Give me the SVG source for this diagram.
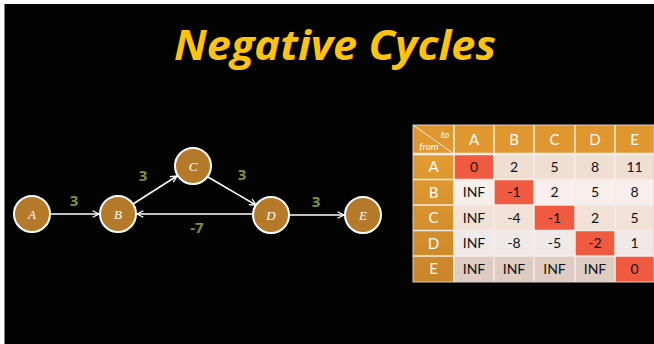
<svg xmlns="http://www.w3.org/2000/svg" width="654" height="344" viewBox="0 0 654 344">
  <style>
    .title { font-family: "Open Sans", Lato, sans-serif; font-weight: 700; font-style: italic; font-size: 42px; fill: #FFC20E; }
    .node circle { fill: #B5792A; stroke: #FFFFFF; stroke-width: 2; }
    .node text { font-family: "Liberation Serif", serif; font-style: italic; font-size: 13px; fill: #FFFFFF; text-anchor: middle; }
    .edge { stroke: #FFFFFF; stroke-width: 1.5; fill: none; marker-end: url(#arrow); }
    .w { font-family: "Open Sans", "Liberation Sans", sans-serif; font-weight: 700; font-size: 15px; fill: #7E9436; text-anchor: middle; }
    .hd { fill: #E0972F; }
    .rh { fill: url(#rowhead); }
    .ht { font-family: Lato, "Liberation Sans", sans-serif; font-size: 15px; fill: #FFFFFF; text-anchor: middle; }
    .ct { font-family: Lato, "Liberation Sans", sans-serif; font-size: 14px; fill: #111111; text-anchor: middle; }
    .rA { fill: #F0DED3; }
    .rB { fill: #F7EFEB; }
    .rC { fill: #F1E1D7; }
    .rD { fill: #EFEAE7; }
    .rE { fill: #DECCC3; }
    .dg { fill: #F05A40; }
    .grid { stroke: #F4ECE8; stroke-width: 1.5; }
  </style>
  <defs>
    <marker id="arrow" viewBox="0 0 10 10" refX="9" refY="5" markerWidth="8" markerHeight="8" markerUnits="userSpaceOnUse" orient="auto">
      <path d="M1,1 L9,5 L1,9" fill="none" stroke="#FFFFFF" stroke-width="1.6"/>
    </marker>
    <linearGradient id="rowhead" x1="0" y1="0" x2="0" y2="1">
      <stop offset="0" stop-color="#E39C32"/>
      <stop offset="1" stop-color="#C98529"/>
    </linearGradient>
  </defs>

  <!-- background -->
  <rect x="0" y="0" width="654" height="344" fill="#FFFFFF"/>
  <rect x="4.5" y="4" width="650" height="340" fill="#030303"/>

  <text class="title" x="335" y="60" text-anchor="middle" textLength="322" lengthAdjust="spacingAndGlyphs">Negative Cycles</text>

  <!-- connectors -->
  <g id="edges">
    <line class="edge" x1="50" y1="214" x2="99" y2="214"/>
    <line class="edge" x1="133" y1="204" x2="177" y2="176"/>
    <line class="edge" x1="208" y1="177" x2="256" y2="205"/>
    <line class="edge" x1="252" y1="214" x2="137" y2="214"/>
    <line class="edge" x1="289" y1="215" x2="344" y2="215"/>
    <text class="w" x="74" y="206">3</text>
    <text class="w" x="143" y="181">3</text>
    <text class="w" x="242" y="180">3</text>
    <text class="w" x="197" y="233">-7</text>
    <text class="w" x="316" y="207">3</text>
  </g>

  <!-- nodes -->
  <g id="node-A" class="node"><circle cx="32" cy="214" r="18"/><text x="32" y="218.5">A</text></g>
  <g id="node-B" class="node"><circle cx="118" cy="214" r="18"/><text x="118" y="218.5">B</text></g>
  <g id="node-C" class="node"><circle cx="193" cy="166" r="18"/><text x="193" y="170.5">C</text></g>
  <g id="node-D" class="node"><circle cx="271" cy="215" r="18"/><text x="271" y="219.5">D</text></g>
  <g id="node-E" class="node"><circle cx="363" cy="215" r="18"/><text x="363" y="219.5">E</text></g>

  <!-- distance table -->
  <g id="table">
    <rect class="hd" x="413" y="125" width="241" height="29"/>
    <rect class="rh" x="413" y="154" width="41" height="128"/>
    <rect class="rA" x="454" y="154" width="200" height="25.5"/>
    <rect class="rB" x="454" y="179.5" width="200" height="25.5"/>
    <rect class="rC" x="454" y="205" width="200" height="25.5"/>
    <rect class="rD" x="454" y="230.5" width="200" height="25.5"/>
    <rect class="rE" x="454" y="256" width="200" height="26"/>
    <rect class="dg" x="454" y="154" width="40" height="25.5"/>
    <rect class="dg" x="494" y="179.5" width="40" height="25.5"/>
    <rect class="dg" x="534" y="205" width="41" height="25.5"/>
    <rect class="dg" x="575" y="230.5" width="40" height="25.5"/>
    <rect class="dg" x="615" y="256" width="39" height="26"/>

    <g class="grid">
      <line x1="454" y1="125" x2="454" y2="282"/>
      <line x1="494" y1="125" x2="494" y2="282"/>
      <line x1="534" y1="125" x2="534" y2="282"/>
      <line x1="575" y1="125" x2="575" y2="282"/>
      <line x1="615" y1="125" x2="615" y2="282"/>
      <line x1="413" y1="154" x2="654" y2="154" stroke-width="2.5"/>
      <line x1="413" y1="179.5" x2="654" y2="179.5"/>
      <line x1="413" y1="205" x2="654" y2="205"/>
      <line x1="413" y1="230.5" x2="654" y2="230.5"/>
      <line x1="413" y1="256" x2="654" y2="256"/>
      <line x1="413" y1="125" x2="454" y2="154" stroke-width="1"/>
      <rect x="413" y="125" width="241" height="157" fill="none" stroke="#D9CFC9" stroke-width="1"/>
    </g>

    <text x="445" y="138" font-family="Lato, 'Liberation Sans', sans-serif" font-style="italic" font-size="10" fill="#FFFFFF" text-anchor="middle">to</text>
    <text x="429" y="150" font-family="Lato, 'Liberation Sans', sans-serif" font-style="italic" font-size="10" fill="#FFFFFF" text-anchor="middle">from</text>

    <text class="ht" x="474" y="145">A</text>
    <text class="ht" x="514" y="145">B</text>
    <text class="ht" x="554.5" y="145">C</text>
    <text class="ht" x="595" y="145">D</text>
    <text class="ht" x="634.5" y="145">E</text>

    <text class="ht" x="433.5" y="172">A</text>
    <text class="ht" x="433.5" y="197.5">B</text>
    <text class="ht" x="433.5" y="223">C</text>
    <text class="ht" x="433.5" y="248.5">D</text>
    <text class="ht" x="433.5" y="274">E</text>

    <text class="ct" x="474" y="171.5">0</text>
    <text class="ct" x="514" y="171.5">2</text>
    <text class="ct" x="554.5" y="171.5">5</text>
    <text class="ct" x="595" y="171.5">8</text>
    <text class="ct" x="634.5" y="171.5">11</text>

    <text class="ct" x="474" y="197">INF</text>
    <text class="ct" x="514" y="197">-1</text>
    <text class="ct" x="554.5" y="197">2</text>
    <text class="ct" x="595" y="197">5</text>
    <text class="ct" x="634.5" y="197">8</text>

    <text class="ct" x="474" y="222.5">INF</text>
    <text class="ct" x="514" y="222.5">-4</text>
    <text class="ct" x="554.5" y="222.5">-1</text>
    <text class="ct" x="595" y="222.5">2</text>
    <text class="ct" x="634.5" y="222.5">5</text>

    <text class="ct" x="474" y="248">INF</text>
    <text class="ct" x="514" y="248">-8</text>
    <text class="ct" x="554.5" y="248">-5</text>
    <text class="ct" x="595" y="248">-2</text>
    <text class="ct" x="634.5" y="248">1</text>

    <text class="ct" x="474" y="274">INF</text>
    <text class="ct" x="514" y="274">INF</text>
    <text class="ct" x="554.5" y="274">INF</text>
    <text class="ct" x="595" y="274">INF</text>
    <text class="ct" x="634.5" y="274">0</text>
  </g>
</svg>
